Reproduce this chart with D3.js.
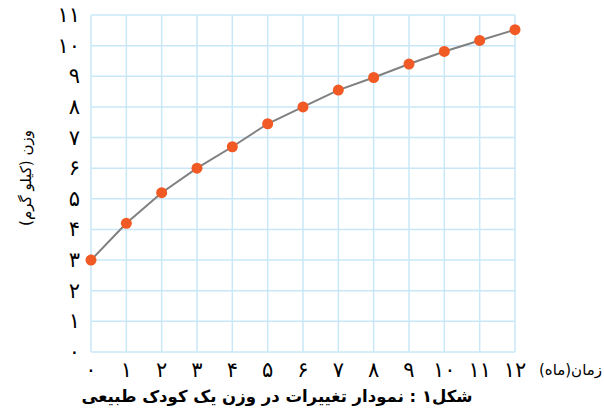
<!DOCTYPE html>
<html>
<head>
<meta charset="utf-8">
<script src="https://cdn.jsdelivr.net/npm/d3@7"></script>
<style>
  body { margin: 0; background: #fff; }
  text { font-family: "DejaVu Sans", sans-serif; }
</style>
</head>
<body>
<script>
const w = 604;
const h = 416;

// months and weight (kg)
const months = [0, 1, 2, 3, 4, 5, 6, 7, 8, 9, 10, 11, 12];
const weights = [3.0, 4.2, 5.2, 6.0, 6.7, 7.45, 8.0, 8.55, 8.96, 9.4, 9.81, 10.17, 10.52];
const yTicks = [0, 1, 2, 3, 4, 5, 6, 7, 8, 9, 10, 11];

const faDigits = "۰۱۲۳۴۵۶۷۸۹";
const fa = n => String(n).replace(/\d/g, d => faDigits[d]);

const svg = d3.select("body").append("svg")
  .attr("width", w)
  .attr("height", h);

const xScale = d3.scaleLinear().domain([0, 12]).range([91, 515]);
const yScale = d3.scaleLinear().domain([0, 11]).range([352, 15]);

// grid
const grid = svg.append("g").attr("stroke", "#c9e8f7").attr("stroke-width", 1.5);
grid.selectAll(".vx")
  .data(months)
  .enter()
  .append("line")
  .attr("x1", d => xScale(d))
  .attr("x2", d => xScale(d))
  .attr("y1", yScale(0))
  .attr("y2", yScale(11));
grid.selectAll(".hy")
  .data(yTicks)
  .enter()
  .append("line")
  .attr("x1", xScale(0))
  .attr("x2", xScale(12))
  .attr("y1", d => yScale(d))
  .attr("y2", d => yScale(d));

// y tick labels
svg.append("g")
  .selectAll("text")
  .data(yTicks)
  .enter()
  .append("text")
  .attr("x", 80)
  .attr("y", d => yScale(d) + 7)
  .attr("text-anchor", "end")
  .style("font-size", "21px")
  .text(d => fa(d));

// x tick labels
svg.append("g")
  .selectAll("text")
  .data(months)
  .enter()
  .append("text")
  .attr("x", d => xScale(d))
  .attr("y", 377)
  .attr("text-anchor", "middle")
  .style("font-size", "21px")
  .text(d => fa(d));

// axis labels
svg.append("text")
  .attr("x", 602)
  .attr("y", 375)
  .attr("text-anchor", "end")
  .style("font-size", "15px")
  .text("زمان(ماه)");

svg.append("text")
  .attr("x", 26)
  .attr("y", 178)
  .attr("transform", "rotate(-90,26,178)")
  .attr("text-anchor", "middle")
  .attr("dominant-baseline", "middle")
  .style("font-size", "15px")
  .text("وزن (کیلو گرم)");

// caption
svg.append("text")
  .attr("x", 277)
  .attr("y", 402)
  .attr("text-anchor", "middle")
  .style("font-size", "16.5px")
  .style("font-weight", "bold")
  .text("شکل۱ : نمودار تغییرات در وزن یک کودک طبیعی");

// line + points
const line = d3.line()
  .x((d, i) => xScale(months[i]))
  .y(d => yScale(d));

svg.append("path")
  .datum(weights)
  .attr("d", line)
  .attr("fill", "none")
  .attr("stroke", "#808080")
  .attr("stroke-width", 2);

svg.selectAll("circle")
  .data(weights)
  .enter()
  .append("circle")
  .attr("cx", (d, i) => xScale(months[i]))
  .attr("cy", d => yScale(d))
  .attr("r", 5.5)
  .attr("fill", "#f15a24");
</script>
</body>
</html>
